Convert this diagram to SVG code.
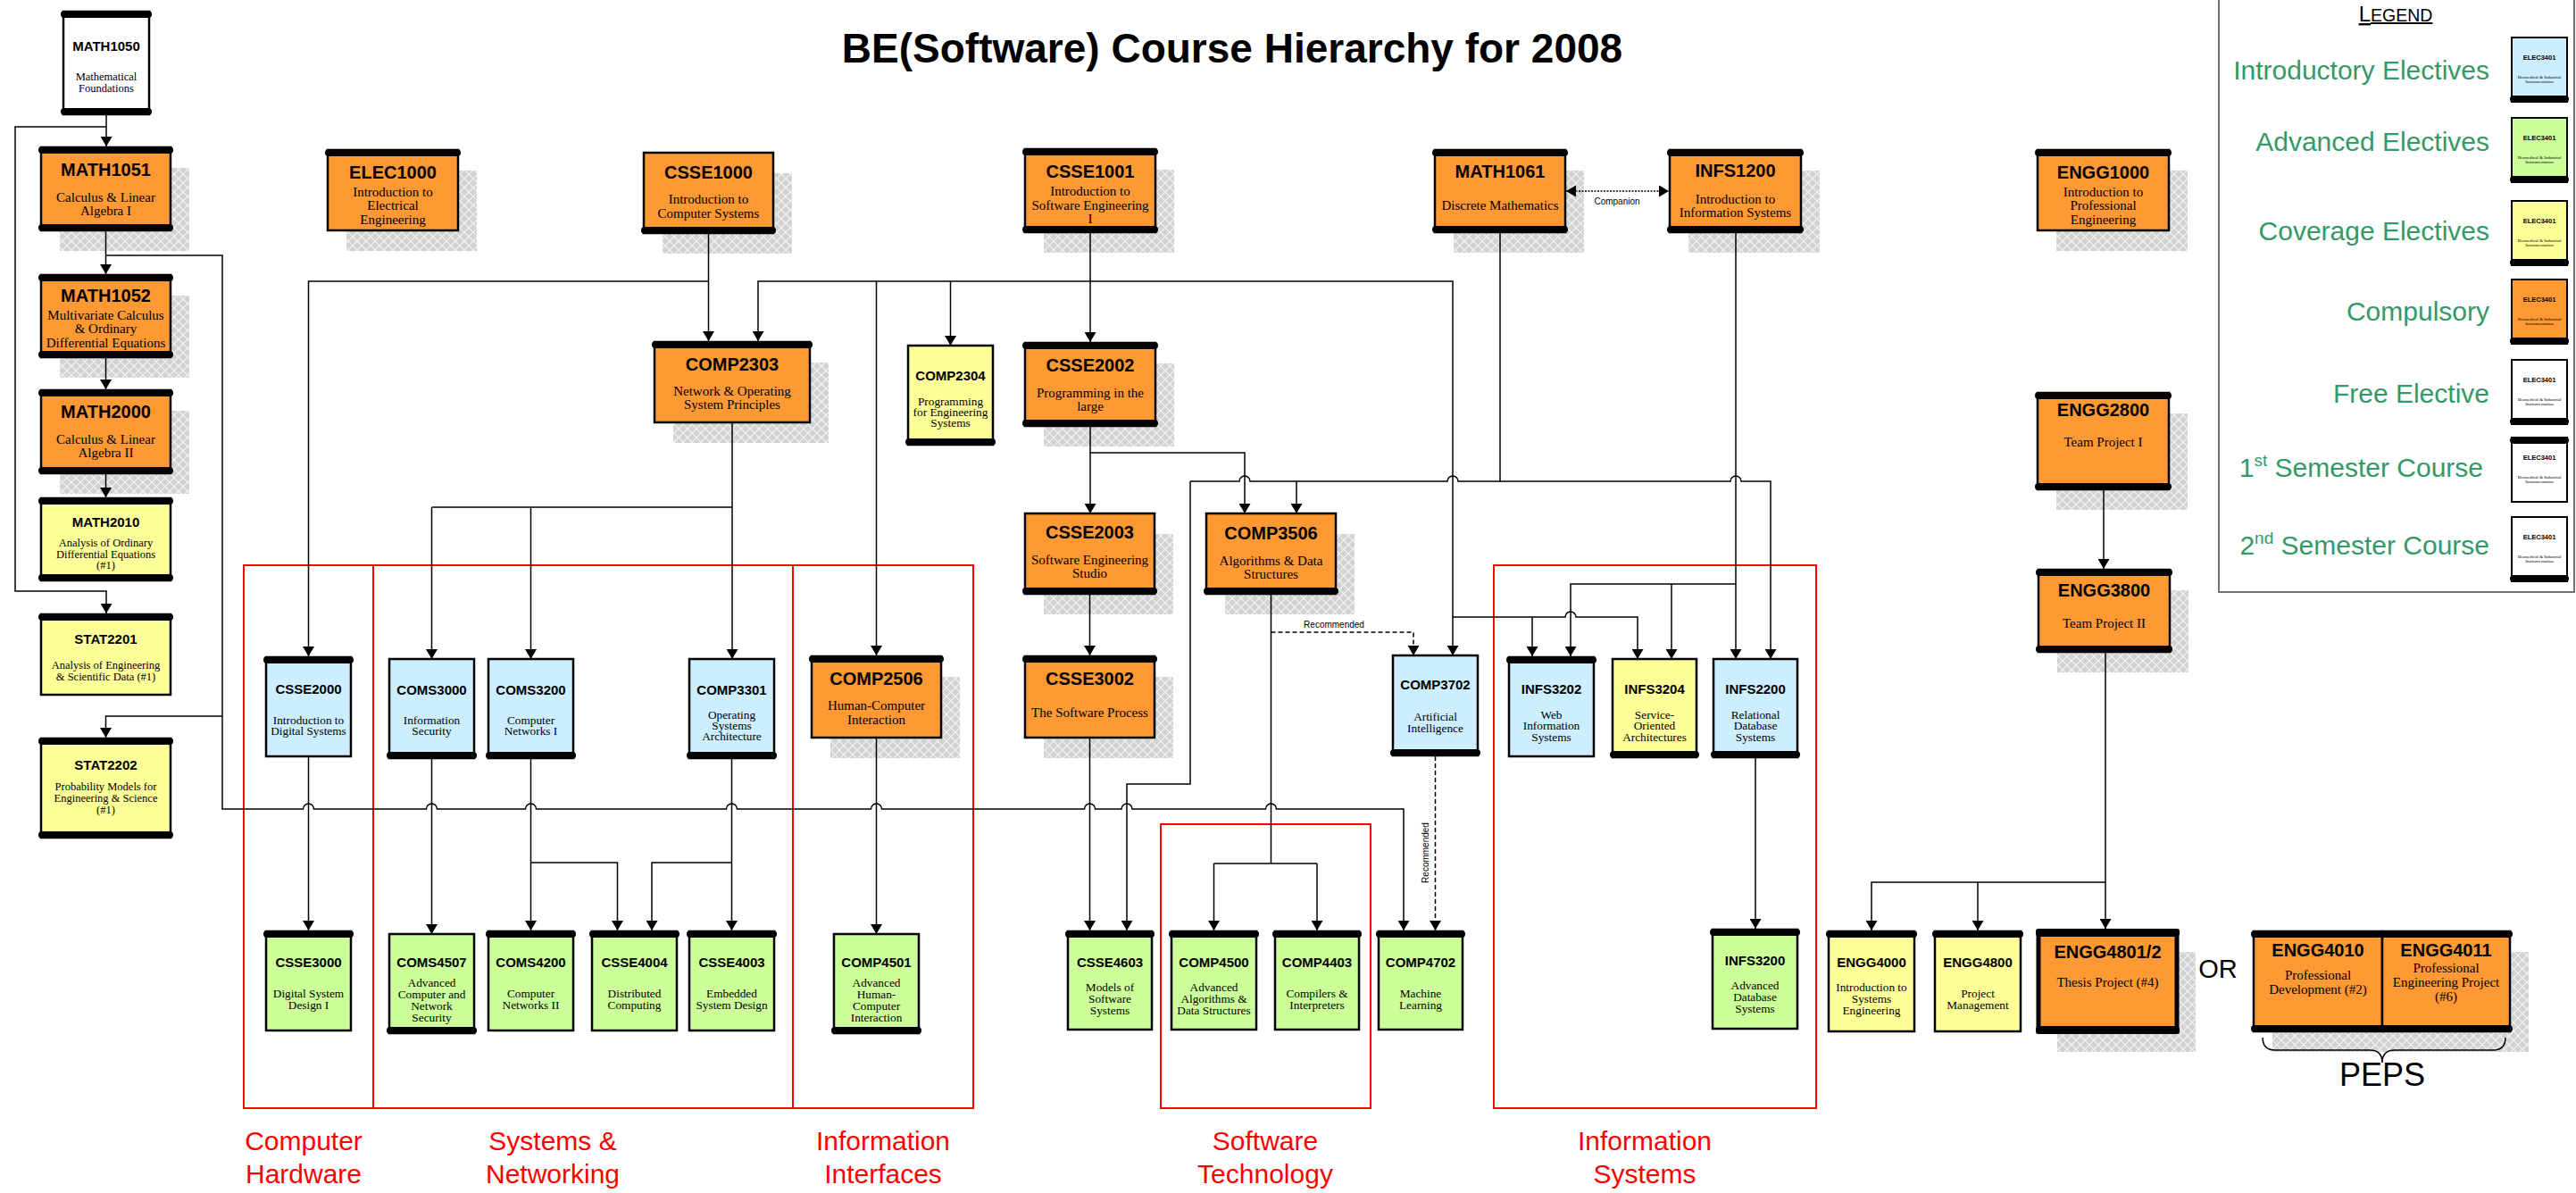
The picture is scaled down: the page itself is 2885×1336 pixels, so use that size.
<svg xmlns="http://www.w3.org/2000/svg" width="2885" height="1336" viewBox="0 0 2885 1336">
<style>
.b{stroke:#000;stroke-width:2.5}
.or{fill:#ff9933}.bl{fill:#cceeff}.ye{fill:#ffff99}.gr{fill:#ccff99}.wh{fill:#fff}
.bar{fill:#000}
.sh{fill:url(#hatch)}
.t{font-family:"Liberation Sans",Arial,sans-serif;font-weight:700;text-anchor:middle;fill:#000}
.t20{font-size:20px}.t15{font-size:15px}
.s{font-family:"Liberation Serif","Times New Roman",serif;text-anchor:middle;fill:#000}
.s15{font-size:15px}.s13{font-size:13.3px}.s12{font-size:12.5px}
.ln{fill:none;stroke:#000;stroke-width:1.5}
.ar{marker-end:url(#ah)}
.dash{stroke-dasharray:5,3}
.dot{stroke-dasharray:2,1.5}
.red{fill:none;stroke:#ff0000;stroke-width:2}
.grp{font-family:"Liberation Sans",Arial,sans-serif;font-size:30px;fill:#ff0000;text-anchor:middle}
.lg{font-family:"Liberation Sans",Arial,sans-serif;font-size:30px;fill:#339966;text-anchor:end}
.lbl{font-family:"Liberation Sans",Arial,sans-serif;font-size:10px;fill:#000;text-anchor:middle}
.it{font-family:"Liberation Sans",Arial,sans-serif;font-weight:700;font-size:7.5px;text-anchor:middle}
.is{font-family:"Liberation Serif",serif;font-size:5px;text-anchor:middle}
</style>
<defs>
<pattern id="hatch" width="10" height="10" patternUnits="userSpaceOnUse"><rect width="10" height="10" fill="#d2d2d2"/><path d="M0,0 L10,10 M10,0 L0,10" stroke="#f4f4f4" stroke-width="1.2"/></pattern>
<marker id="ah" viewBox="0 0 11 13" refX="11" refY="6.5" markerWidth="11" markerHeight="13" markerUnits="userSpaceOnUse" orient="auto"><path d="M0,0 L11,6.5 L0,13 z" fill="#000"/></marker>
<marker id="ahs" viewBox="0 0 11 13" refX="11" refY="6.5" markerWidth="11" markerHeight="13" markerUnits="userSpaceOnUse" orient="auto-start-reverse"><path d="M0,0 L11,6.5 L0,13 z" fill="#000"/></marker>
</defs>
<rect width="2885" height="1336" fill="#fff"/>
<text x="1380" y="70" style="font-family:'Liberation Sans',Arial,sans-serif;font-weight:700;font-size:46px;text-anchor:middle">BE(Software) Course Hierarchy for 2008</text>

<g id="groups">
<rect class="red" x="273" y="633" width="145" height="608"/>
<rect class="red" x="418" y="633" width="470" height="608"/>
<rect class="red" x="888" y="633" width="202" height="608"/>
<rect class="red" x="1300" y="923" width="235" height="318"/>
<rect class="red" x="1673" y="633" width="361" height="608"/>
<text class="grp"><tspan x="340" y="1288">Computer</tspan><tspan x="340" y="1325">Hardware</tspan></text>
<text class="grp"><tspan x="619" y="1288">Systems &amp;</tspan><tspan x="619" y="1325">Networking</tspan></text>
<text class="grp"><tspan x="989" y="1288">Information</tspan><tspan x="989" y="1325">Interfaces</tspan></text>
<text class="grp"><tspan x="1417" y="1288">Software</tspan><tspan x="1417" y="1325">Technology</tspan></text>
<text class="grp"><tspan x="1842" y="1288">Information</tspan><tspan x="1842" y="1325">Systems</tspan></text>
</g>

<g id="legend">
<rect x="2485" y="-2" width="398" height="665" fill="none" stroke="#444" stroke-width="1.5"/>
<text x="2683" y="24" style="font-family:'Liberation Sans',Arial,sans-serif;font-size:24px;text-anchor:middle;text-decoration:underline">L<tspan font-size="19.5">EGEND</tspan></text>
<text class="lg" x="2788" y="89">Introductory Electives</text>
<text class="lg" x="2788" y="169">Advanced Electives</text>
<text class="lg" x="2788" y="269">Coverage Electives</text>
<text class="lg" x="2788" y="359">Compulsory</text>
<text class="lg" x="2788" y="451">Free Elective</text>
<text class="lg" x="2781" y="534">1<tspan font-size="19" dy="-12">st</tspan><tspan dy="12"> Semester Course</tspan></text>
<text class="lg" x="2788" y="621">2<tspan font-size="19" dy="-12">nd</tspan><tspan dy="12"> Semester Course</tspan></text>
<g id="lg-intro"><rect class="bl" stroke="#000" stroke-width="2" x="2813" y="42" width="62" height="72"/><rect class="bar" x="2811" y="107" width="66" height="8" rx="4"/><text class="it" x="2844" y="67">ELEC3401</text><text class="is"><tspan x="2844" y="88">Biomedical &amp; Industrial</tspan><tspan x="2844" y="93">Instrumentation</tspan></text></g>
<g id="lg-adv"><rect class="gr" stroke="#000" stroke-width="2" x="2813" y="132" width="62" height="72"/><rect class="bar" x="2811" y="197" width="66" height="8" rx="4"/><text class="it" x="2844" y="157">ELEC3401</text><text class="is"><tspan x="2844" y="178">Biomedical &amp; Industrial</tspan><tspan x="2844" y="183">Instrumentation</tspan></text></g>
<g id="lg-cov"><rect class="ye" stroke="#000" stroke-width="2" x="2813" y="225" width="62" height="72"/><rect class="bar" x="2811" y="290" width="66" height="8" rx="4"/><text class="it" x="2844" y="250">ELEC3401</text><text class="is"><tspan x="2844" y="271">Biomedical &amp; Industrial</tspan><tspan x="2844" y="276">Instrumentation</tspan></text></g>
<g id="lg-comp"><rect class="or" stroke="#000" stroke-width="2" x="2813" y="313" width="62" height="72"/><rect class="bar" x="2811" y="378" width="66" height="8" rx="4"/><text class="it" x="2844" y="338">ELEC3401</text><text class="is"><tspan x="2844" y="359">Biomedical &amp; Industrial</tspan><tspan x="2844" y="364">Instrumentation</tspan></text></g>
<g id="lg-free"><rect class="wh" stroke="#000" stroke-width="2" x="2813" y="403" width="62" height="72"/><rect class="bar" x="2811" y="468" width="66" height="8" rx="4"/><text class="it" x="2844" y="428">ELEC3401</text><text class="is"><tspan x="2844" y="449">Biomedical &amp; Industrial</tspan><tspan x="2844" y="454">Instrumentation</tspan></text></g>
<g id="lg-s1"><rect class="wh" stroke="#000" stroke-width="2" x="2813" y="490" width="62" height="72"/><rect class="bar" x="2811" y="489" width="66" height="8" rx="4"/><text class="it" x="2844" y="515">ELEC3401</text><text class="is"><tspan x="2844" y="536">Biomedical &amp; Industrial</tspan><tspan x="2844" y="541">Instrumentation</tspan></text></g>
<g id="lg-s2"><rect class="wh" stroke="#000" stroke-width="2" x="2813" y="579" width="62" height="72"/><rect class="bar" x="2811" y="644" width="66" height="8" rx="4"/><text class="it" x="2844" y="604">ELEC3401</text><text class="is"><tspan x="2844" y="625">Biomedical &amp; Industrial</tspan><tspan x="2844" y="630">Instrumentation</tspan></text></g>
</g>

<g id="MATH1050"><rect class="b wh" x="71" y="13" width="96" height="115"/><rect class="bar" x="68" y="12" width="102" height="8" rx="4"/><rect class="bar" x="68" y="121" width="102" height="8" rx="4"/><text class="t t15" x="119" y="57">MATH1050</text><text class="s s12"><tspan x="119" y="90">Mathematical</tspan><tspan x="119" y="103">Foundations</tspan></text></g>
<g id="MATH1051"><rect class="sh" x="67" y="188" width="145" height="93"/><rect class="b or" x="46" y="165" width="145" height="93"/><rect class="bar" x="43" y="164" width="151" height="8" rx="4"/><rect class="bar" x="43" y="251" width="151" height="8" rx="4"/><text class="t t20" x="118.5" y="197">MATH1051</text><text class="s s15"><tspan x="118.5" y="226">Calculus &amp; Linear</tspan><tspan x="118.5" y="241">Algebra I</tspan></text></g>
<g id="MATH1052"><rect class="sh" x="67" y="331" width="145" height="92"/><rect class="b or" x="46" y="308" width="145" height="92"/><rect class="bar" x="43" y="307" width="151" height="8" rx="4"/><rect class="bar" x="43" y="393" width="151" height="8" rx="4"/><text class="t t20" x="118.5" y="338">MATH1052</text><text class="s s15"><tspan x="118.5" y="358">Multivariate Calculus</tspan><tspan x="118.5" y="373">&amp; Ordinary</tspan><tspan x="118.5" y="389">Differential Equations</tspan></text></g>
<g id="MATH2000"><rect class="sh" x="67" y="460" width="145" height="93"/><rect class="b or" x="46" y="437" width="145" height="93"/><rect class="bar" x="43" y="436" width="151" height="8" rx="4"/><rect class="bar" x="43" y="523" width="151" height="8" rx="4"/><text class="t t20" x="118.5" y="468">MATH2000</text><text class="s s15"><tspan x="118.5" y="497">Calculus &amp; Linear</tspan><tspan x="118.5" y="512">Algebra II</tspan></text></g>
<g id="MATH2010"><rect class="b ye" x="46" y="558" width="145" height="92"/><rect class="bar" x="43" y="557" width="151" height="8" rx="4"/><rect class="bar" x="43" y="643" width="151" height="8" rx="4"/><text class="t t15" x="118.5" y="590">MATH2010</text><text class="s s12"><tspan x="118.5" y="612">Analysis of Ordinary</tspan><tspan x="118.5" y="624.5">Differential Equations</tspan><tspan x="118.5" y="637">(#1)</tspan></text></g>
<g id="STAT2201"><rect class="b ye" x="46" y="688" width="145" height="90"/><rect class="bar" x="43" y="687" width="151" height="8" rx="4"/><text class="t t15" x="118.5" y="721">STAT2201</text><text class="s s12"><tspan x="118.5" y="749">Analysis of Engineering</tspan><tspan x="118.5" y="762">&amp; Scientific Data (#1)</tspan></text></g>
<g id="STAT2202"><rect class="b ye" x="46" y="827" width="145" height="111"/><rect class="bar" x="43" y="826" width="151" height="8" rx="4"/><rect class="bar" x="43" y="931" width="151" height="8" rx="4"/><text class="t t15" x="118.5" y="862">STAT2202</text><text class="s s12"><tspan x="118.5" y="885">Probability Models for</tspan><tspan x="118.5" y="898">Engineering &amp; Science</tspan><tspan x="118.5" y="911">(#1)</tspan></text></g>
<g id="ELEC1000"><rect class="sh" x="388" y="191" width="146" height="90"/><rect class="b or" x="367" y="168" width="146" height="90"/><rect class="bar" x="364" y="167" width="152" height="8" rx="4"/><text class="t t20" x="440" y="200">ELEC1000</text><text class="s s15"><tspan x="440" y="220">Introduction to</tspan><tspan x="440" y="235">Electrical</tspan><tspan x="440" y="251">Engineering</tspan></text></g>
<g id="CSSE1000"><rect class="sh" x="742" y="194" width="145" height="90"/><rect class="b or" x="721" y="171" width="145" height="90"/><rect class="bar" x="718" y="254" width="151" height="8" rx="4"/><text class="t t20" x="793.5" y="200">CSSE1000</text><text class="s s15"><tspan x="793.5" y="228">Introduction to</tspan><tspan x="793.5" y="244">Computer Systems</tspan></text></g>
<g id="CSSE1001"><rect class="sh" x="1169" y="190" width="146" height="93"/><rect class="b or" x="1148" y="167" width="146" height="93"/><rect class="bar" x="1145" y="166" width="152" height="8" rx="4"/><rect class="bar" x="1145" y="253" width="152" height="8" rx="4"/><text class="t t20" x="1221" y="199">CSSE1001</text><text class="s s15"><tspan x="1221" y="219">Introduction to</tspan><tspan x="1221" y="235">Software Engineering</tspan><tspan x="1221" y="250">I</tspan></text></g>
<g id="MATH1061"><rect class="sh" x="1628" y="191" width="146" height="92"/><rect class="b or" x="1607" y="168" width="146" height="92"/><rect class="bar" x="1604" y="167" width="152" height="8" rx="4"/><rect class="bar" x="1604" y="253" width="152" height="8" rx="4"/><text class="t t20" x="1680" y="199">MATH1061</text><text class="s s15" x="1680" y="235">Discrete Mathematics</text></g>
<g id="INFS1200"><rect class="sh" x="1891" y="191" width="147" height="92"/><rect class="b or" x="1870" y="168" width="147" height="92"/><rect class="bar" x="1867" y="167" width="153" height="8" rx="4"/><rect class="bar" x="1867" y="253" width="153" height="8" rx="4"/><text class="t t20" x="1943.5" y="198">INFS1200</text><text class="s s15"><tspan x="1943.5" y="228">Introduction to</tspan><tspan x="1943.5" y="243">Information Systems</tspan></text></g>
<g id="ENGG1000"><rect class="sh" x="2303" y="191" width="147" height="90"/><rect class="b or" x="2282" y="168" width="147" height="90"/><rect class="bar" x="2279" y="167" width="153" height="8" rx="4"/><text class="t t20" x="2355.5" y="200">ENGG1000</text><text class="s s15"><tspan x="2355.5" y="220">Introduction to</tspan><tspan x="2355.5" y="235">Professional</tspan><tspan x="2355.5" y="251">Engineering</tspan></text></g>
<g id="COMP2303"><rect class="sh" x="754" y="406" width="174" height="90"/><rect class="b or" x="733" y="383" width="174" height="90"/><rect class="bar" x="730" y="382" width="180" height="8" rx="4"/><text class="t t20" x="820" y="415">COMP2303</text><text class="s s15"><tspan x="820" y="443">Network &amp; Operating</tspan><tspan x="820" y="458">System Principles</tspan></text></g>
<g id="COMP2304"><rect class="b ye" x="1017" y="387" width="95" height="111"/><rect class="bar" x="1014" y="491" width="101" height="8" rx="4"/><text class="t t15" x="1064.5" y="426">COMP2304</text><text class="s s13"><tspan x="1064.5" y="454">Programming</tspan><tspan x="1064.5" y="466">for Engineering</tspan><tspan x="1064.5" y="478">Systems</tspan></text></g>
<g id="CSSE2002"><rect class="sh" x="1169" y="407" width="146" height="93"/><rect class="b or" x="1148" y="384" width="146" height="93"/><rect class="bar" x="1145" y="383" width="152" height="8" rx="4"/><rect class="bar" x="1145" y="470" width="152" height="8" rx="4"/><text class="t t20" x="1221" y="416">CSSE2002</text><text class="s s15"><tspan x="1221" y="445">Programming in the</tspan><tspan x="1221" y="460">large</tspan></text></g>
<g id="ENGG2800"><rect class="sh" x="2303" y="463" width="147" height="108"/><rect class="b or" x="2282" y="440" width="147" height="108"/><rect class="bar" x="2279" y="439" width="153" height="8" rx="4"/><rect class="bar" x="2279" y="541" width="153" height="8" rx="4"/><text class="t t20" x="2355.5" y="466">ENGG2800</text><text class="s s15" x="2355.5" y="500">Team Project I</text></g>
<g id="ENGG3800"><rect class="sh" x="2304" y="661" width="147" height="92"/><rect class="b or" x="2283" y="638" width="147" height="92"/><rect class="bar" x="2280" y="637" width="153" height="8" rx="4"/><rect class="bar" x="2280" y="723" width="153" height="8" rx="4"/><text class="t t20" x="2356.5" y="668">ENGG3800</text><text class="s s15" x="2356.5" y="703">Team Project II</text></g>
<g id="CSSE2003"><rect class="sh" x="1169" y="598" width="145" height="90"/><rect class="b or" x="1148" y="575" width="145" height="90"/><rect class="bar" x="1145" y="658" width="151" height="8" rx="4"/><text class="t t20" x="1220.5" y="603">CSSE2003</text><text class="s s15"><tspan x="1220.5" y="632">Software Engineering</tspan><tspan x="1220.5" y="647">Studio</tspan></text></g>
<g id="COMP3506"><rect class="sh" x="1372" y="598" width="145" height="90"/><rect class="b or" x="1351" y="575" width="145" height="90"/><rect class="bar" x="1348" y="658" width="151" height="8" rx="4"/><text class="t t20" x="1423.5" y="604">COMP3506</text><text class="s s15"><tspan x="1423.5" y="633">Algorithms &amp; Data</tspan><tspan x="1423.5" y="648">Structures</tspan></text></g>
<g id="CSSE2000"><rect class="b bl" x="298" y="736" width="95" height="111"/><rect class="bar" x="295" y="735" width="101" height="8" rx="4"/><text class="t t15" x="345.5" y="777">CSSE2000</text><text class="s s13"><tspan x="345.5" y="811">Introduction to</tspan><tspan x="345.5" y="823">Digital Systems</tspan></text></g>
<g id="COMS3000"><rect class="b bl" x="436" y="738" width="95" height="111"/><rect class="bar" x="433" y="842" width="101" height="8" rx="4"/><text class="t t15" x="483.5" y="778">COMS3000</text><text class="s s13"><tspan x="483.5" y="811">Information</tspan><tspan x="483.5" y="823">Security</tspan></text></g>
<g id="COMS3200"><rect class="b bl" x="547" y="738" width="95" height="111"/><rect class="bar" x="544" y="842" width="101" height="8" rx="4"/><text class="t t15" x="594.5" y="778">COMS3200</text><text class="s s13"><tspan x="594.5" y="811">Computer</tspan><tspan x="594.5" y="823">Networks I</tspan></text></g>
<g id="COMP3301"><rect class="b bl" x="772" y="738" width="95" height="111"/><rect class="bar" x="769" y="842" width="101" height="8" rx="4"/><text class="t t15" x="819.5" y="778">COMP3301</text><text class="s s13"><tspan x="819.5" y="805">Operating</tspan><tspan x="819.5" y="817">Systems</tspan><tspan x="819.5" y="829">Architecture</tspan></text></g>
<g id="COMP2506"><rect class="sh" x="930" y="758" width="145" height="91"/><rect class="b or" x="909" y="735" width="145" height="91"/><rect class="bar" x="906" y="734" width="151" height="8" rx="4"/><text class="t t20" x="981.5" y="767">COMP2506</text><text class="s s15"><tspan x="981.5" y="795">Human-Computer</tspan><tspan x="981.5" y="811">Interaction</tspan></text></g>
<g id="CSSE3002"><rect class="sh" x="1169" y="758" width="145" height="91"/><rect class="b or" x="1148" y="735" width="145" height="91"/><rect class="bar" x="1145" y="734" width="151" height="8" rx="4"/><text class="t t20" x="1220.5" y="767">CSSE3002</text><text class="s s15" x="1220.5" y="803">The Software Process</text></g>
<g id="COMP3702"><rect class="b bl" x="1560" y="734" width="95" height="112"/><rect class="bar" x="1557" y="839" width="101" height="8" rx="4"/><text class="t t15" x="1607.5" y="772">COMP3702</text><text class="s s13"><tspan x="1607.5" y="807">Artificial</tspan><tspan x="1607.5" y="820">Intelligence</tspan></text></g>
<g id="INFS3202"><rect class="b bl" x="1690" y="736" width="95" height="111"/><rect class="bar" x="1687" y="735" width="101" height="8" rx="4"/><text class="t t15" x="1737.5" y="777">INFS3202</text><text class="s s13"><tspan x="1737.5" y="805">Web</tspan><tspan x="1737.5" y="817">Information</tspan><tspan x="1737.5" y="830">Systems</tspan></text></g>
<g id="INFS3204"><rect class="b ye" x="1806" y="738" width="94" height="110"/><rect class="bar" x="1803" y="841" width="100" height="8" rx="4"/><text class="t t15" x="1853" y="777">INFS3204</text><text class="s s13"><tspan x="1853" y="805">Service-</tspan><tspan x="1853" y="817">Oriented</tspan><tspan x="1853" y="830">Architectures</tspan></text></g>
<g id="INFS2200"><rect class="b bl" x="1919" y="738" width="94" height="110"/><rect class="bar" x="1916" y="841" width="100" height="8" rx="4"/><text class="t t15" x="1966" y="777">INFS2200</text><text class="s s13"><tspan x="1966" y="805">Relational</tspan><tspan x="1966" y="817">Database</tspan><tspan x="1966" y="830">Systems</tspan></text></g>
<g id="CSSE3000"><rect class="b gr" x="298" y="1043" width="95" height="111"/><rect class="bar" x="295" y="1042" width="101" height="8" rx="4"/><text class="t t15" x="345.5" y="1083">CSSE3000</text><text class="s s13"><tspan x="345.5" y="1117">Digital System</tspan><tspan x="345.5" y="1130">Design I</tspan></text></g>
<g id="COMS4507"><rect class="b gr" x="436" y="1046" width="95" height="111"/><rect class="bar" x="433" y="1150" width="101" height="8" rx="4"/><text class="t t15" x="483.5" y="1083">COMS4507</text><text class="s s13"><tspan x="483.5" y="1105">Advanced</tspan><tspan x="483.5" y="1118">Computer and</tspan><tspan x="483.5" y="1131">Network</tspan><tspan x="483.5" y="1144">Security</tspan></text></g>
<g id="COMS4200"><rect class="b gr" x="547" y="1043" width="95" height="111"/><rect class="bar" x="544" y="1042" width="101" height="8" rx="4"/><text class="t t15" x="594.5" y="1083">COMS4200</text><text class="s s13"><tspan x="594.5" y="1117">Computer</tspan><tspan x="594.5" y="1130">Networks II</tspan></text></g>
<g id="CSSE4004"><rect class="b gr" x="663" y="1043" width="95" height="111"/><rect class="bar" x="660" y="1042" width="101" height="8" rx="4"/><text class="t t15" x="710.5" y="1083">CSSE4004</text><text class="s s13"><tspan x="710.5" y="1117">Distributed</tspan><tspan x="710.5" y="1130">Computing</tspan></text></g>
<g id="CSSE4003"><rect class="b gr" x="772" y="1043" width="95" height="111"/><rect class="bar" x="769" y="1042" width="101" height="8" rx="4"/><text class="t t15" x="819.5" y="1083">CSSE4003</text><text class="s s13"><tspan x="819.5" y="1117">Embedded</tspan><tspan x="819.5" y="1130">System Design</tspan></text></g>
<g id="COMP4501"><rect class="b gr" x="934" y="1046" width="95" height="111"/><rect class="bar" x="931" y="1150" width="101" height="8" rx="4"/><text class="t t15" x="981.5" y="1083">COMP4501</text><text class="s s13"><tspan x="981.5" y="1105">Advanced</tspan><tspan x="981.5" y="1118">Human-</tspan><tspan x="981.5" y="1131">Computer</tspan><tspan x="981.5" y="1144">Interaction</tspan></text></g>
<g id="CSSE4603"><rect class="b gr" x="1196" y="1043" width="94" height="110"/><rect class="bar" x="1193" y="1042" width="100" height="8" rx="4"/><text class="t t15" x="1243" y="1083">CSSE4603</text><text class="s s13"><tspan x="1243" y="1110">Models of</tspan><tspan x="1243" y="1123">Software</tspan><tspan x="1243" y="1136">Systems</tspan></text></g>
<g id="COMP4500"><rect class="b gr" x="1312" y="1043" width="95" height="110"/><rect class="bar" x="1309" y="1042" width="101" height="8" rx="4"/><text class="t t15" x="1359.5" y="1083">COMP4500</text><text class="s s13"><tspan x="1359.5" y="1110">Advanced</tspan><tspan x="1359.5" y="1123">Algorithms &amp;</tspan><tspan x="1359.5" y="1136">Data Structures</tspan></text></g>
<g id="COMP4403"><rect class="b gr" x="1428" y="1043" width="94" height="110"/><rect class="bar" x="1425" y="1042" width="100" height="8" rx="4"/><text class="t t15" x="1475" y="1083">COMP4403</text><text class="s s13"><tspan x="1475" y="1117">Compilers &amp;</tspan><tspan x="1475" y="1130">Interpreters</tspan></text></g>
<g id="COMP4702"><rect class="b gr" x="1544" y="1043" width="94" height="110"/><rect class="bar" x="1541" y="1042" width="100" height="8" rx="4"/><text class="t t15" x="1591" y="1083">COMP4702</text><text class="s s13"><tspan x="1591" y="1117">Machine</tspan><tspan x="1591" y="1130">Learning</tspan></text></g>
<g id="INFS3200"><rect class="b gr" x="1918" y="1041" width="95" height="111"/><rect class="bar" x="1915" y="1040" width="101" height="8" rx="4"/><text class="t t15" x="1965.5" y="1081">INFS3200</text><text class="s s13"><tspan x="1965.5" y="1108">Advanced</tspan><tspan x="1965.5" y="1121">Database</tspan><tspan x="1965.5" y="1134">Systems</tspan></text></g>
<g id="ENGG4000"><rect class="b ye" x="2048" y="1043" width="96" height="112"/><rect class="bar" x="2045" y="1042" width="102" height="8" rx="4"/><text class="t t15" x="2096" y="1083">ENGG4000</text><text class="s s13"><tspan x="2096" y="1110">Introduction to</tspan><tspan x="2096" y="1123">Systems</tspan><tspan x="2096" y="1136">Engineering</tspan></text></g>
<g id="ENGG4800"><rect class="b ye" x="2167" y="1043" width="96" height="112"/><rect class="bar" x="2164" y="1042" width="102" height="8" rx="4"/><text class="t t15" x="2215" y="1083">ENGG4800</text><text class="s s13"><tspan x="2215" y="1117">Project</tspan><tspan x="2215" y="1130">Management</tspan></text></g>
<g id="ENGG4801-2"><rect class="sh" x="2304" y="1066" width="155" height="112"/><rect class="or" stroke="#000" stroke-width="5" x="2283" y="1043" width="155" height="112"/><rect class="bar" x="2280" y="1040" width="161" height="9" rx="4"/><rect class="bar" x="2280" y="1149" width="161" height="9" rx="4"/><text class="t t20" x="2360.5" y="1073">ENGG4801/2</text><text class="s s15" x="2360.5" y="1105">Thesis Project (#4)</text></g>
<text x="2484" y="1095" style="font-family:'Liberation Sans',Arial,sans-serif;font-size:29px;text-anchor:middle">OR</text>
<g id="ENGG4010"><rect class="sh" x="2545" y="1066" width="287" height="112"/><rect class="b or" x="2524" y="1043" width="144" height="112"/><rect class="bar" x="2521" y="1042" width="150" height="8" rx="4"/><rect class="bar" x="2521" y="1148" width="150" height="8" rx="4"/><text class="t t20" x="2596" y="1071">ENGG4010</text><text class="s s15"><tspan x="2596" y="1097">Professional</tspan><tspan x="2596" y="1113">Development (#2)</tspan></text></g>
<g id="ENGG4011"><rect class="b or" x="2668" y="1043" width="143" height="112"/><rect class="bar" x="2665" y="1042" width="149" height="8" rx="4"/><rect class="bar" x="2665" y="1148" width="149" height="8" rx="4"/><text class="t t20" x="2739.5" y="1071">ENGG4011</text><text class="s s15"><tspan x="2739.5" y="1089">Professional</tspan><tspan x="2739.5" y="1105">Engineering Project</tspan><tspan x="2739.5" y="1121">(#6)</tspan></text></g>
<g id="PEPS"><path class="ln" d="M2534,1162 Q2534,1176 2548,1176 L2654,1176 Q2668,1176 2668,1190 Q2668,1176 2682,1176 L2792,1176 Q2806,1176 2806,1162"/><text x="2668" y="1216" style="font-family:'Liberation Sans',Arial,sans-serif;font-size:36px;text-anchor:middle">PEPS</text></g>

<g id="connectors">
<path class="ln ar" d="M119,129 L119,164"/>
<path class="ln ar" d="M119,142 L17,142 L17,662 L119,662 L119,687"/>
<path class="ln ar" d="M118.5,259 L118.5,307"/>
<path class="ln ar" d="M118.5,286 L249,286 L249,906 L339.5,906 A6,6 0 0 1 351.5,906 L477.5,906 A6,6 0 0 1 489.5,906 L588.5,906 A6,6 0 0 1 600.5,906 L813.5,906 A6,6 0 0 1 825.5,906 L975.5,906 A6,6 0 0 1 987.5,906 L1214.5,906 A6,6 0 0 1 1226.5,906 L1256,906 A6,6 0 0 1 1268,906 L1417.5,906 A6,6 0 0 1 1429.5,906 L1572,906 L1572,1042"/>
<path class="ln ar" d="M249,802 L118.5,802 L118.5,826"/>
<path class="ln ar" d="M118.5,401 L118.5,436"/>
<path class="ln ar" d="M118.5,531 L118.5,557"/>
<path class="ln ar" d="M793.5,262 L793.5,382"/>
<path class="ln ar" d="M793.5,315 L345.5,315 L345.5,735"/>
<path class="ln ar" d="M1221,261 L1221,383"/>
<path class="ln ar" d="M1221,315 L849,315 L849,382"/>
<path class="ln ar" d="M981.5,315 L981.5,734"/>
<path class="ln ar" d="M1064.5,315 L1064.5,387"/>
<path class="ln ar" d="M1221,315 L1627,315 L1627,734"/>
<path class="ln ar" d="M1627,691 L1753,691 A6,6 0 0 1 1765,691 L1834,691 L1834,738"/>
<path class="ln ar" d="M1716,691 L1716,735"/>
<path class="ln ar" d="M820,473 L820,738"/>
<path class="ln" d="M483.5,568 L820,568"/>
<path class="ln ar" d="M483.5,568 L483.5,738"/>
<path class="ln ar" d="M594.5,568 L594.5,738"/>
<path class="ln ar" d="M345.5,847 L345.5,1042"/>
<path class="ln ar" d="M483.5,850 L483.5,1046"/>
<path class="ln ar" d="M594.5,850 L594.5,1042"/>
<path class="ln ar" d="M594.5,966 L691.5,966 L691.5,1042"/>
<path class="ln ar" d="M819.5,850 L819.5,1042"/>
<path class="ln ar" d="M819.5,966 L730,966 L730,1042"/>
<path class="ln ar" d="M981.5,826 L981.5,1046"/>
<path class="ln ar" d="M1221,478 L1221,575"/>
<path class="ln ar" d="M1221,507 L1394,507 L1394,575"/>
<path class="ln ar" d="M1220.5,666 L1220.5,734"/>
<path class="ln ar" d="M1220.5,826 L1220.5,1042"/>
<path class="ln" d="M1680,261 L1680,539"/>
<path class="ln ar" d="M1333,539 L1388,539 A6,6 0 0 1 1400,539 L1621,539 A6,6 0 0 1 1633,539 L1938,539 A6,6 0 0 1 1950,539 L1983,539 L1983,738"/>
<path class="ln ar" d="M1452,539 L1452,575"/>
<path class="ln ar" d="M1333,539 L1333,878 L1262,878 L1262,1042"/>
<path class="ln ar" d="M1944,261 L1944,738"/>
<path class="ln ar" d="M1944,654 L1759,654 L1759,735"/>
<path class="ln ar" d="M1872,654 L1872,738"/>
<path class="ln" d="M1423.5,666 L1423.5,967 M1359.5,967 L1475,967"/>
<path class="ln ar" d="M1359.5,967 L1359.5,1042"/>
<path class="ln ar" d="M1475,967 L1475,1042"/>
<path class="ln ar dash" d="M1423.5,708 L1583,708 L1583,734"/>
<text class="lbl" x="1494" y="703">Recommended</text>
<path class="ln ar dash" d="M1607.5,847 L1607.5,1042"/>
<text class="lbl" transform="translate(1600,955) rotate(-90)" x="0" y="0">Recommended</text>
<path class="ln dot" style="marker-start:url(#ahs);marker-end:url(#ah)" d="M1754,214 L1869,214"/>
<text class="lbl" x="1811" y="229">Companion</text>
<path class="ln ar" d="M1966,849 L1966,1040"/>
<path class="ln ar" d="M2356,549 L2356,637"/>
<path class="ln ar" d="M2358,731 L2358,1040"/>
<path class="ln ar" d="M2358,988 L2096,988 L2096,1042"/>
<path class="ln ar" d="M2215,988 L2215,1042"/>
</g>
</svg>
